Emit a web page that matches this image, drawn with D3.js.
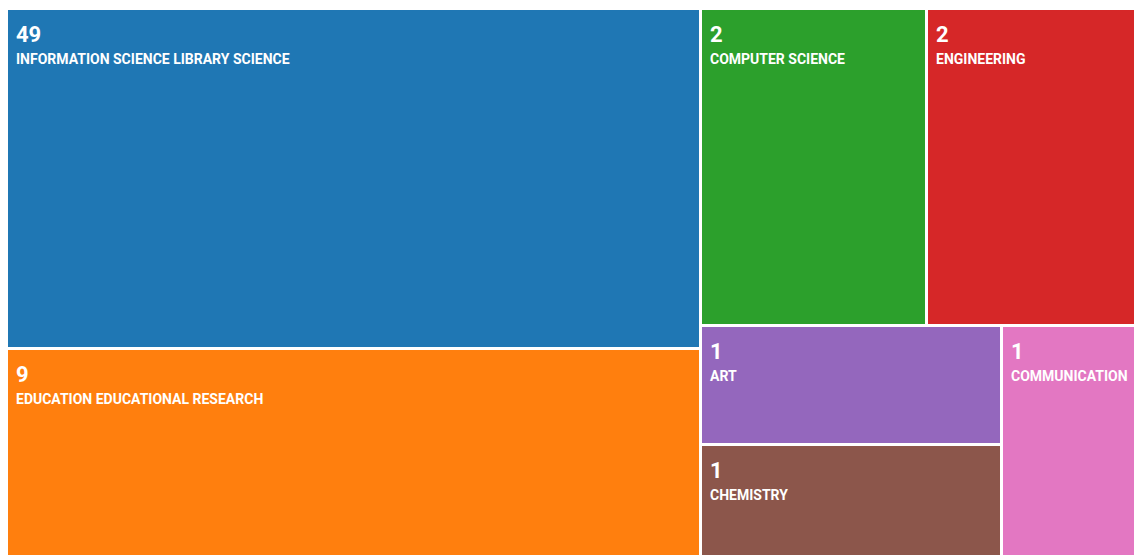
<!DOCTYPE html>
<html>
<head>
<meta charset="utf-8">
<script src="https://cdn.jsdelivr.net/npm/d3@7"></script>
<style>
  html, body { margin: 0; padding: 0; background: #fff; }
  svg { display: block; }
  .num { font-family: "Liberation Sans Narrow", "Roboto", sans-serif; font-weight: 700; fill: #fff; }
  .lbl { font-family: "Liberation Sans Narrow", "Roboto", sans-serif; font-weight: 700; fill: #fff; }
</style>
</head>
<body>
<svg id="chart" width="1134" height="555"></svg>
<script>
// Web of Science categories and record counts
const categories = [
  "INFORMATION SCIENCE LIBRARY SCIENCE",
  "EDUCATION EDUCATIONAL RESEARCH",
  "COMPUTER SCIENCE",
  "ENGINEERING",
  "ART",
  "CHEMISTRY",
  "COMMUNICATION"
];
const counts = [49, 9, 2, 2, 1, 1, 1];
const colors = d3.schemeCategory10;

const svg = d3.select("#chart");

// Tile area grows with the log of the count so small categories stay readable
const weight = v => 1 + Math.log2(v);

const root = d3.hierarchy({
  children: categories.map((name, i) => ({ name, count: counts[i], idx: i }))
})
  .sum(d => d.count ? weight(d.count) : 0)
  .sort((a, b) => b.value - a.value);

d3.treemap()
  .tile(d3.treemapSquarify)
  .size([1142, 552])
  .paddingInner(3)
  .round(true)(root);

const plot = svg.append("g").attr("transform", "translate(8,10)");

const cell = plot.selectAll("g.cell")
  .data(root.leaves())
  .join("g")
  .attr("class", "cell")
  .attr("transform", d => `translate(${d.x0},${d.y0})`);

cell.append("rect")
  .attr("width", d => d.x1 - d.x0)
  .attr("height", d => d.y1 - d.y0)
  .attr("fill", d => colors[d.data.idx]);

cell.append("text")
  .attr("class", "num")
  .attr("x", 8)
  .attr("y", 32)
  .attr("font-size", 22)
  .text(d => d.data.count);

cell.append("text")
  .attr("class", "lbl")
  .attr("x", 8)
  .attr("y", 54)
  .attr("font-size", 14)
  .text(d => d.data.name);
</script>
</body>
</html>
